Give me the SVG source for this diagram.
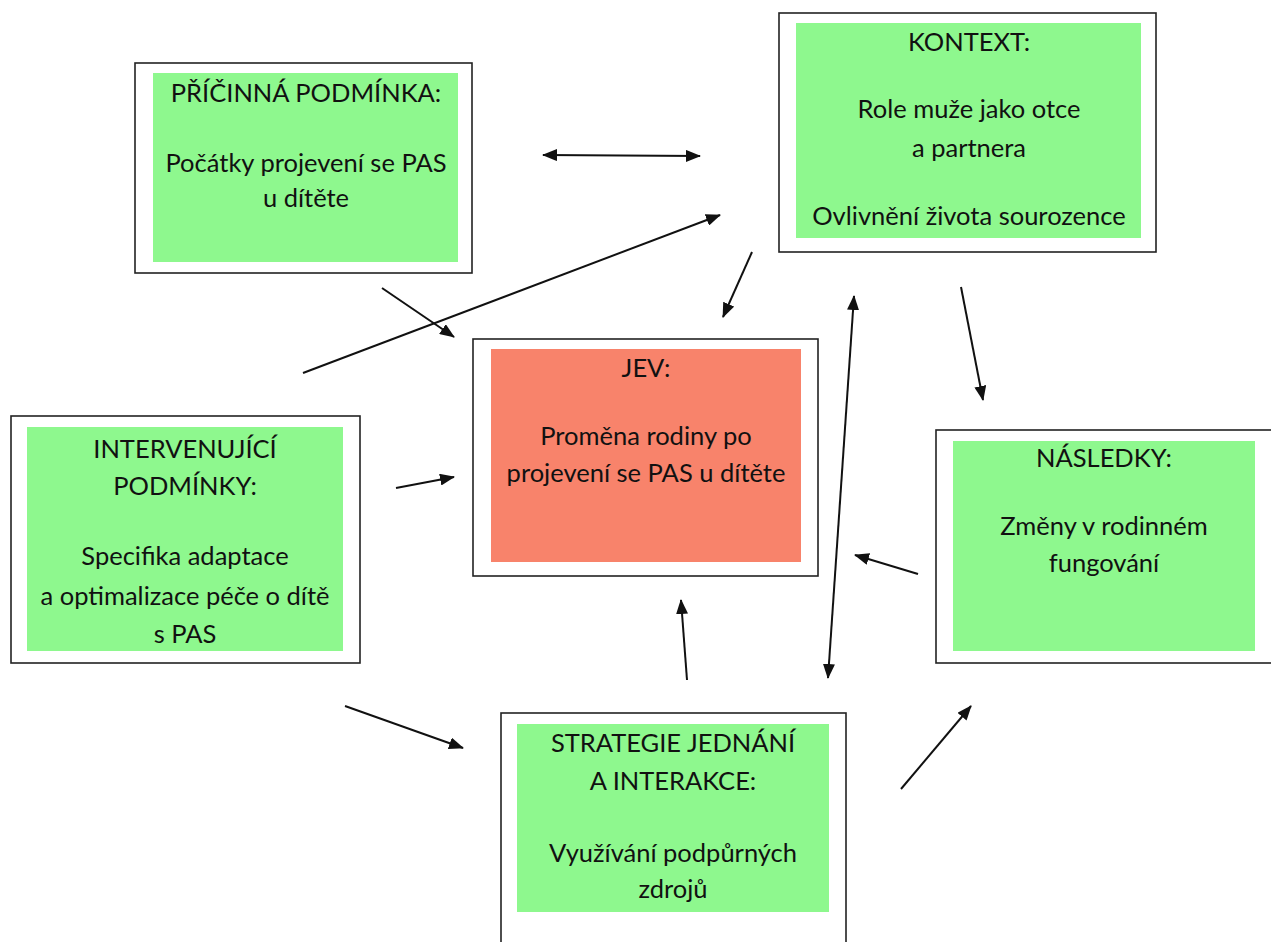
<svg xmlns="http://www.w3.org/2000/svg" width="1271" height="942" viewBox="0 0 1271 942">
<defs>
<style>
.outer{fill:#fff;stroke:#222;stroke-width:1.6}
.green{fill:#8ef88e}
.red{fill:#f8836b}
text{font-family:Lato,"Noto Sans",sans-serif;font-size:25.5px;fill:#111;text-anchor:middle}
.conn line{stroke:#111;stroke-width:2}
</style>
<marker id="ah" viewBox="0 0 15 12" refX="14" refY="6" markerWidth="15" markerHeight="12" markerUnits="userSpaceOnUse" orient="auto-start-reverse">
<path d="M0,0 L15,6 L0,12 z" fill="#111"/>
</marker>
</defs>
<rect width="1271" height="942" fill="#fff"/>

<g id="pricinna">
<rect class="outer" x="135" y="63" width="337" height="210"/>
<rect class="green" x="153" y="73" width="305" height="189"/>
<text x="306" y="102">PŘÍČINNÁ PODMÍNKA:</text>
<text x="306" y="172">Počátky projevení se PAS</text>
<text x="306" y="207">u dítěte</text>
</g>

<g id="kontext">
<rect class="outer" x="779" y="13" width="377" height="239"/>
<rect class="green" x="796" y="23" width="345" height="215"/>
<text x="969" y="51">KONTEXT:</text>
<text x="969" y="118">Role muže jako otce</text>
<text x="969" y="157">a partnera</text>
<text x="969" y="225">Ovlivnění života sourozence</text>
</g>

<g id="intervenujici">
<rect class="outer" x="11" y="416" width="349" height="247"/>
<rect class="green" x="27" y="427" width="316" height="224"/>
<text x="185" y="458">INTERVENUJÍCÍ</text>
<text x="185" y="495">PODMÍNKY:</text>
<text x="185" y="565">Specifika adaptace</text>
<text x="185" y="605">a optimalizace péče o dítě</text>
<text x="185" y="643">s PAS</text>
</g>

<g id="jev">
<rect class="outer" x="473" y="339" width="345" height="237"/>
<rect class="red" x="491" y="349" width="310" height="213"/>
<text x="646" y="377">JEV:</text>
<text x="646" y="445">Proměna rodiny po</text>
<text x="646" y="482">projevení se PAS u dítěte</text>
</g>

<g id="nasledky">
<rect class="outer" x="936" y="430" width="340" height="233"/>
<rect class="green" x="953" y="441" width="302" height="210"/>
<text x="1104" y="467">NÁSLEDKY:</text>
<text x="1104" y="535">Změny v rodinném</text>
<text x="1104" y="572">fungování</text>
</g>

<g id="strategie">
<rect class="outer" x="501" y="713" width="345" height="240"/>
<rect class="green" x="517" y="724" width="312" height="188"/>
<text x="673" y="752">STRATEGIE JEDNÁNÍ</text>
<text x="673" y="790">A INTERAKCE:</text>
<text x="673" y="862">Využívání podpůrných</text>
<text x="673" y="898">zdrojů</text>
</g>

<g id="connectors" class="conn">
<line x1="543" y1="155" x2="700" y2="156" marker-start="url(#ah)" marker-end="url(#ah)"/>
<line x1="303" y1="373" x2="720" y2="215" marker-end="url(#ah)"/>
<line x1="382" y1="288" x2="454" y2="337" marker-end="url(#ah)"/>
<line x1="752" y1="252" x2="723" y2="317" marker-end="url(#ah)"/>
<line x1="961" y1="287" x2="983" y2="400" marker-end="url(#ah)"/>
<line x1="854" y1="296" x2="828" y2="678" marker-start="url(#ah)" marker-end="url(#ah)"/>
<line x1="396" y1="488" x2="454" y2="477" marker-end="url(#ah)"/>
<line x1="918" y1="574" x2="855" y2="555" marker-end="url(#ah)"/>
<line x1="687" y1="680" x2="681" y2="600" marker-end="url(#ah)"/>
<line x1="345" y1="706" x2="463" y2="748" marker-end="url(#ah)"/>
<line x1="901" y1="789" x2="971" y2="706" marker-end="url(#ah)"/>
</g>
</svg>
